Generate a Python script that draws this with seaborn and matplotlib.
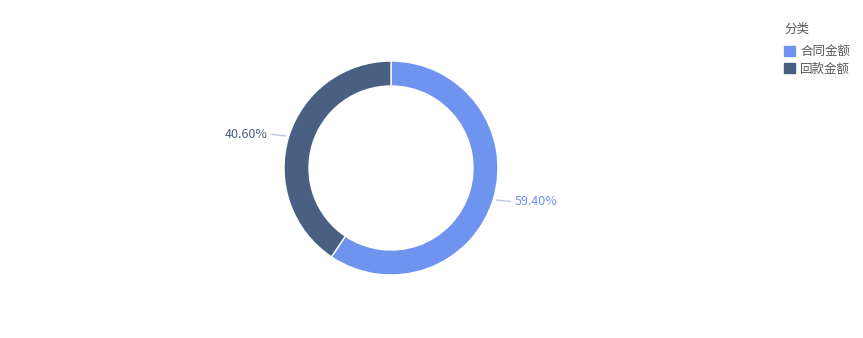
import numpy as np
import matplotlib
matplotlib.use("Agg")
import matplotlib.pyplot as plt
import seaborn as sns

sns.set_theme(style="white")
plt.rcParams['font.family'] = ['Noto Sans CJK SC', 'DejaVu Sans']

categories = ["合同金额", "回款金额"]
values = [59.40, 40.60]
labels = ["59.40%", "40.60%"]
colors = ["#6F94EF", "#4A6082"]
legend_title = "分类"

W, H = 863, 338
fig = plt.figure(figsize=(W / 100, H / 100), dpi=100)
ax = fig.add_axes([0, 0, 1, 1])
ax.set_xlim(0, W)
ax.set_ylim(0, H)
ax.axis("off")

cx, cy, R, ring = 391, 170, 107, 25
wedges, _ = ax.pie(values, colors=colors, startangle=90, counterclock=False,
                   center=(cx, cy), radius=R,
                   wedgeprops=dict(width=ring, edgecolor="white", linewidth=1))
ax.set_xlim(0, W)
ax.set_ylim(0, H)
ax.set_aspect("equal")

for w, lab, col in zip(wedges, labels, colors):
    ang = np.deg2rad((w.theta1 + w.theta2) / 2)
    c, s = np.cos(ang), np.sin(ang)
    x0, y0 = cx + (R + 3) * c, cy + (R + 3) * s
    sign = 1 if c >= 0 else -1
    x1, y1 = x0 + sign * 14, y0 + (-1.5 if s < 0 else 1.5)
    ax.plot([x0, x1], [y0, y1], color="#b8c2d4", lw=0.9)
    ax.text(x1 + sign * 4, y1, lab, color=col, fontsize=9,
            ha="left" if sign > 0 else "right", va="center")

handles = [plt.Rectangle((0, 0), 1, 1, color=c) for c in colors]
leg = fig.legend(handles, categories, title=legend_title, loc="upper left",
                 bbox_to_anchor=(781.5 / W, 1 - 20 / H), frameon=False,
                 fontsize=9, title_fontsize=9, handlelength=0.85, handleheight=0.85,
                 handletextpad=0.45, labelspacing=0.35, borderaxespad=0,
                 borderpad=0.2)
leg._legend_box.align = "left"
leg._legend_box.sep = 7
leg.get_title().set_color("#595959")
for t in leg.get_texts():
    t.set_color("#595959")

fig.savefig("out.png", dpi=100)
